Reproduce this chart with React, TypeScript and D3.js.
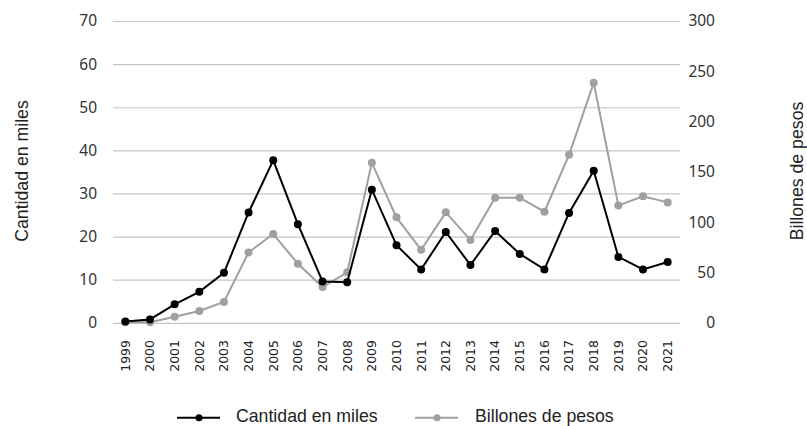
import React, { useEffect } from "react";
import * as d3 from "d3";

const years = ["1999","2000","2001","2002","2003","2004","2005","2006","2007","2008","2009","2010","2011","2012","2013","2014","2015","2016","2017","2018","2019","2020","2021"];
const cantidadMiles = [0.4, 0.9, 4.4, 7.3, 11.7, 25.7, 37.8, 23.0, 9.7, 9.5, 31.0, 18.1, 12.5, 21.2, 13.5, 21.4, 16.1, 12.5, 25.6, 35.4, 15.4, 12.5, 14.2];
const billonesPesos = [1, 1, 6.6, 12.2, 21.2, 70.5, 88.7, 59.2, 36, 50.7, 159.5, 105.3, 73.1, 110.3, 82.7, 124.8, 124.8, 110.9, 167.5, 239, 117.2, 126.2, 120.2];
const leftTicks = [0, 10, 20, 30, 40, 50, 60, 70];
const rightTicks = [0, 50, 100, 150, 200, 250, 300];
const leftTitle = "Cantidad en miles";
const rightTitle = "Billones de pesos";

const W = 807, H = 426;
const plotL = 113, plotR = 680, plotT = 21.5, plotB = 323.3;

export default function App() {
  useEffect(() => {
    document.body.style.margin = "0";
  }, []);
  const x = d3.scaleBand<string>().domain(years).range([plotL, plotR]);
  const xc = (y: string) => (x(y) as number) + x.bandwidth() / 2;
  const yL = d3.scaleLinear().domain([0, 70]).range([plotB, plotT]);
  const yR = d3.scaleLinear().domain([0, 300]).range([plotB, plotT]);
  const lineL = d3.line<number>().x((_, i) => xc(years[i])).y(d => yL(d));
  const lineR = d3.line<number>().x((_, i) => xc(years[i])).y(d => yR(d));
  const tickFont = "'Noto Sans', 'Open Sans', sans-serif";
  const sans = "'Liberation Sans', Arial, sans-serif";
  const black = "#000000";
  const gray = "#a0a0a0";
  return (
    <svg width={W} height={H} style={{ display: "block" }}>
      <rect x={0} y={0} width={W} height={H} fill="#ffffff" />
      {leftTicks.map(t => (
        <line key={"g" + t} x1={plotL} x2={plotR} y1={yL(t)} y2={yL(t)} stroke="#c6c6c6" strokeWidth={1.2} />
      ))}
      {leftTicks.map(t => (
        <text key={"l" + t} x={97} y={yL(t)} dy="0.32em" textAnchor="end" fontFamily={tickFont} fontSize={15.5} fill="#333">{t}</text>
      ))}
      {rightTicks.map(t => (
        <text key={"r" + t} x={715} y={yR(t)} dy="0.32em" textAnchor="end" fontFamily={tickFont} fontSize={15.5} fill="#333">{t}</text>
      ))}
      {years.map(yr => (
        <text key={"x" + yr} transform={`translate(${xc(yr)},340) rotate(-90)`} dy="0.35em" textAnchor="end" fontFamily="'DejaVu Sans', sans-serif" fontSize={12.5} fill="#222">{yr}</text>
      ))}
      <text transform={`translate(28,171) rotate(-90)`} textAnchor="middle" fontFamily={sans} fontSize={17.7} fill="#222">{leftTitle}</text>
      <text transform={`translate(803,171) rotate(-90)`} textAnchor="middle" fontFamily={sans} fontSize={17.7} fill="#222">{rightTitle}</text>
      <path d={lineR(billonesPesos) || ""} fill="none" stroke={gray} strokeWidth={2} />
      {billonesPesos.map((v, i) => (
        <circle key={"pr" + i} cx={xc(years[i])} cy={yR(v)} r={4} fill={gray} />
      ))}
      <path d={lineL(cantidadMiles) || ""} fill="none" stroke={black} strokeWidth={2} />
      {cantidadMiles.map((v, i) => (
        <circle key={"pl" + i} cx={xc(years[i])} cy={yL(v)} r={4} fill={black} />
      ))}
      <g>
        <line x1={177} x2={220} y1={417.7} y2={417.7} stroke={black} strokeWidth={2} />
        <circle cx={199} cy={417.7} r={3.5} fill={black} />
        <text x={236} y={422} fontFamily={sans} fontSize={17.7} fill="#222">{leftTitle}</text>
        <line x1={415} x2={458} y1={417.7} y2={417.7} stroke={gray} strokeWidth={2} />
        <circle cx={437} cy={417.7} r={3.5} fill={gray} />
        <text x={475} y={422} fontFamily={sans} fontSize={17.7} fill="#222">{rightTitle}</text>
      </g>
    </svg>
  );
}
